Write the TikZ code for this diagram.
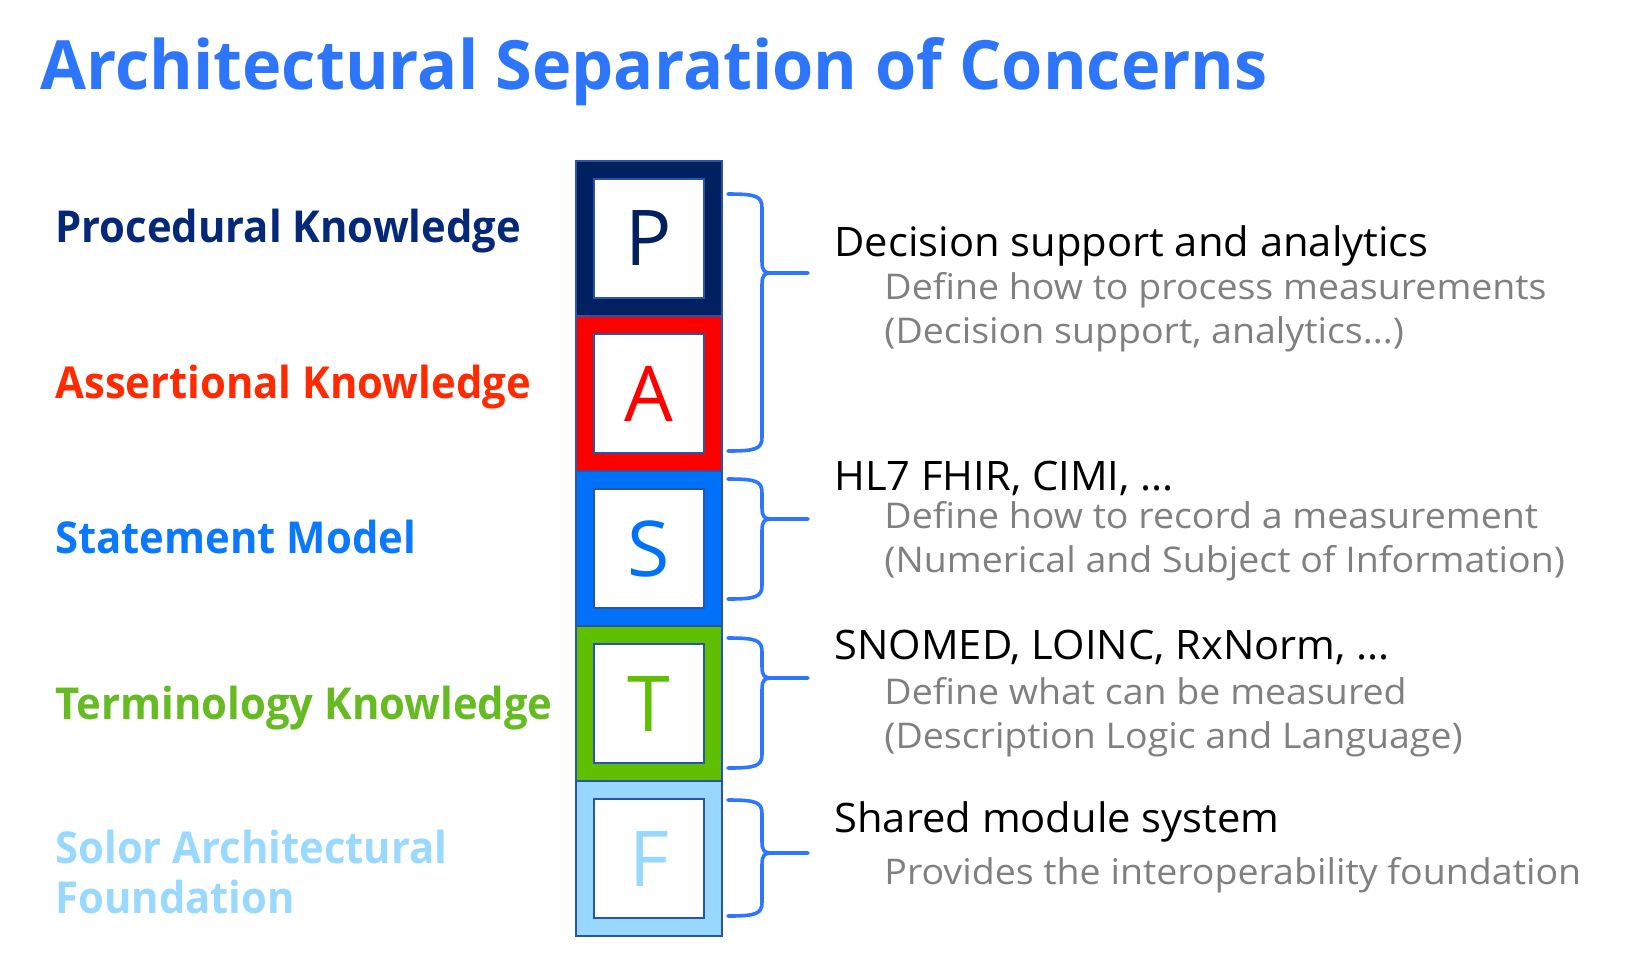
\documentclass[tikz,border=0pt]{standalone}
\usepackage{fontspec}
\setmainfont{Open Sans}
\newfontfamily\titlefont[FakeStretch=0.98]{Open Sans}
\newfontfamily\labelfont[FakeStretch=0.95]{Open Sans}
\newfontfamily\headfont[FakeStretch=1.027]{Open Sans}
\newfontfamily\notefont[FakeStretch=1.06]{Open Sans}
\begin{document}
\definecolor{titleblue}{RGB}{45,117,250}
\definecolor{procnavy}{RGB}{0,32,96}
\definecolor{proctext}{RGB}{6,40,120}
\definecolor{assertred}{RGB}{255,0,0}
\definecolor{asserttext}{RGB}{255,42,0}
\definecolor{stmtblue}{RGB}{0,114,250}
\definecolor{stmttext}{RGB}{10,120,255}
\definecolor{termgreen}{RGB}{94,192,0}
\definecolor{termtext}{RGB}{102,187,34}
\definecolor{foundblue}{RGB}{152,216,255}
\definecolor{foundtext}{RGB}{153,217,255}
\definecolor{edgeblue}{RGB}{40,84,170}
\definecolor{bracecol}{RGB}{46,117,255}
\definecolor{notegray}{RGB}{128,128,128}
\begin{tikzpicture}[x=0.5pt,y=-0.5pt,
  layer/.style={draw=edgeblue,line width=0.8pt,fill=#1},
  letterbox/.style={draw=edgeblue,line width=0.9pt,fill=white},
  letter/.style={text=#1,font=\fontsize{38.5}{40}\selectfont,inner sep=0pt},
  sidelabel/.style={anchor=base west,inner sep=0pt,text=#1,
    font=\labelfont\fontsize{22}{25}\selectfont\bfseries},
  headline/.style={anchor=base west,inner sep=0pt,text=black,
    font=\headfont\fontsize{20.3}{22}\selectfont},
  note/.style={anchor=base west,inner sep=0pt,text=notegray,
    font=\notefont\fontsize{17.7}{22}\selectfont},
  bracket/.style={draw=bracecol,line width=1.8pt,line cap=round,line join=round}]
\useasboundingbox (0,0) rectangle (1636,955);

% title
\node[anchor=base west,inner sep=0pt,text=titleblue,
  font=\titlefont\fontsize{34}{40}\selectfont\bfseries] (title) at (40,89)
  {Architectural Separation of Concerns};

% the stack of five layers
\foreach \nm/\col/\top/\ch in {P/procnavy/161/P, A/assertred/316/A,
    S/stmtblue/471/S, T/termgreen/626/T, F/foundblue/781/F}{
  \path[layer=\col] (576,\top) rectangle ++(146,155);
  \coordinate (\nm-c) at (649,\top+77.5);
  \path[letterbox] (594,\top+18) rectangle ++(110,119);
  \node[letter=\col] (\nm-letter) at (\nm-c) {\ch};
}

% layer names
\node[sidelabel=proctext]   (lP)  at (55,242) {Procedural Knowledge};
\node[sidelabel=asserttext] (lA)  at (55,398) {Assertional Knowledge};
\node[sidelabel=stmttext]   (lS)  at (55,553) {Statement Model};
\node[sidelabel=termtext]   (lT)  at (55,719) {Terminology Knowledge};
\node[sidelabel=foundtext]  (lF1) at (55,863) {Solor Architectural};
\node[sidelabel=foundtext]  (lF2) at (55,913) {Foundation};

% curly brackets: top, tip, bottom
\newcommand\layerbrace[3]{%
  \draw[bracket] (728,#1) .. controls (756,#1) and (762,#1+2) .. (762,#1+14)
    -- (762,#2-12) .. controls (762,#2-2) and (764,#2) .. (772,#2) -- (808,#2);
  \draw[bracket] (772,#2) .. controls (764,#2) and (762,#2+2) .. (762,#2+12)
    -- (762,#3-14) .. controls (762,#3-2) and (756,#3) .. (728,#3);}
\layerbrace{194}{273}{451}
\layerbrace{479}{519}{599}
\layerbrace{638}{678}{768}
\layerbrace{800}{853}{916}

% descriptions
\node[headline] (hP) at (834,256) {Decision support and analytics};
\node[note] (nP1) at (884,299) {Define how to process measurements};
\node[note] (nP2) at (884,343) {(Decision support, analytics...)};

\node[headline] (hS) at (834,490) {HL7 FHIR, CIMI, ...};
\node[note] (nS1) at (884,528) {Define how to record a measurement};
\node[note] (nS2) at (884,572) {(Numerical and Subject of Information)};

\node[headline] (hT) at (834,659) {SNOMED, LOINC, RxNorm, ...};
\node[note] (nT1) at (884,704) {Define what can be measured};
\node[note] (nT2) at (884,748) {(Description Logic and Language)};

\node[headline] (hF) at (834,832) {Shared module system};
\node[note] (nF1) at (884,884) {Provides the interoperability foundation};
\end{tikzpicture}
\end{document}
